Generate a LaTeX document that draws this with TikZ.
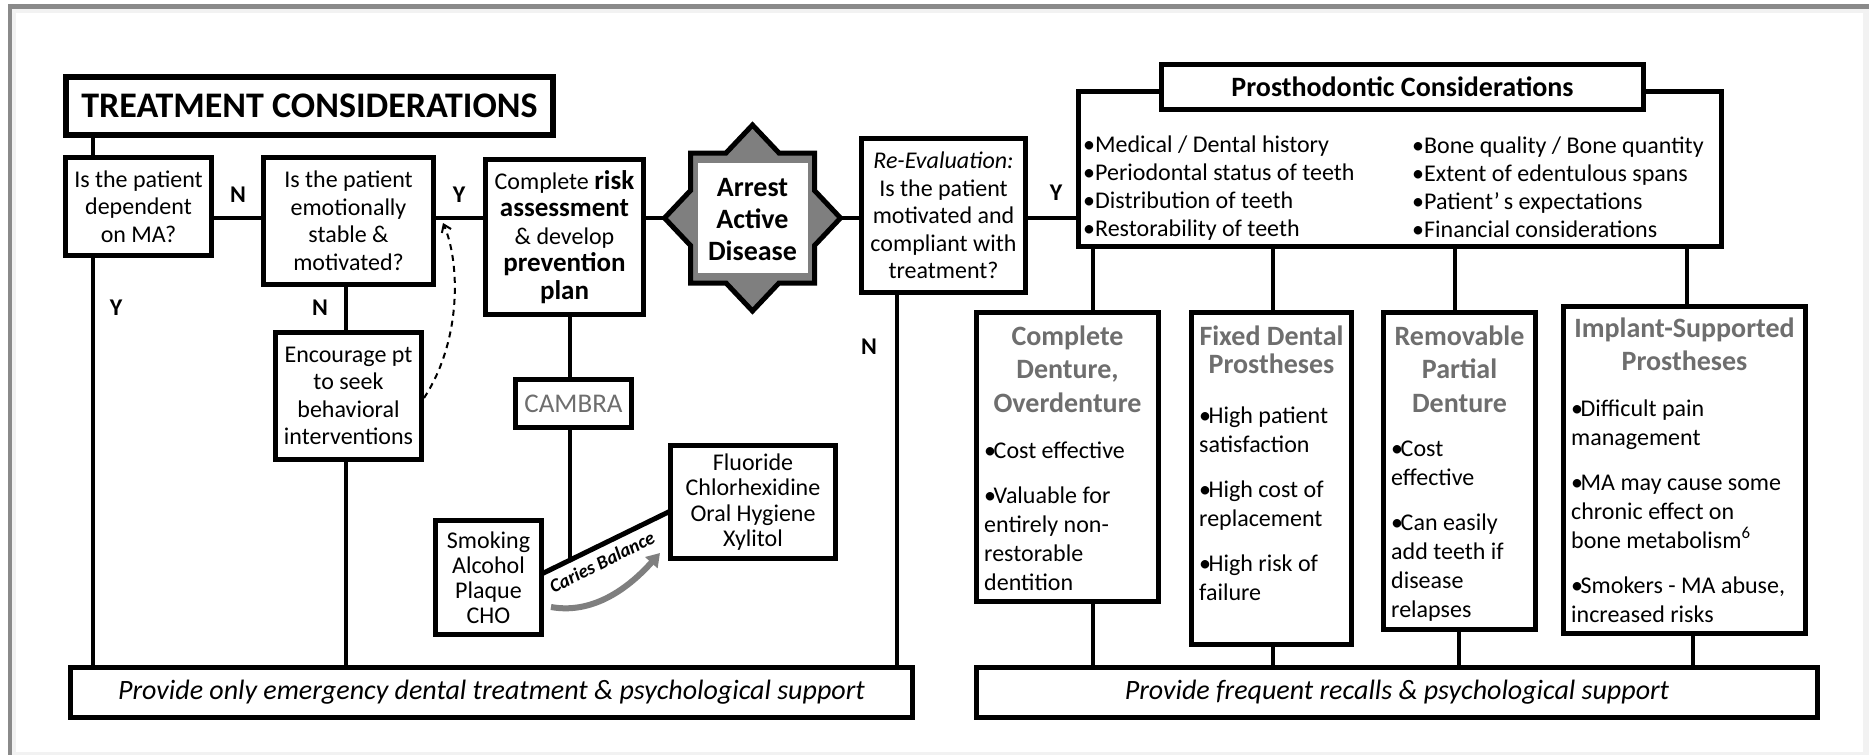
\documentclass[tikz,border=0pt]{standalone}
\usepackage{fontspec}
\setmainfont{Carlito}
\usetikzlibrary{arrows.meta,calc}
\setlength{\parindent}{0pt}
\newcommand\myfs[2]{\fontsize{#1}{#2}\selectfont}
\newcommand\mybul{\hangindent=9.5pt\hangafter=1\noindent\makebox[9.5pt][l]{•}}
\definecolor{frameg}{HTML}{8A8A8A}
\definecolor{framel}{HTML}{F2F2F2}
\definecolor{starg}{HTML}{7F7F7F}
\definecolor{headg}{HTML}{6E6E6E}
\begin{document}
\begin{tikzpicture}[x=1pt,y=-1pt,
  box/.style={draw=black, line width=5pt, fill=white, inner sep=0pt, align=center, font=\myfs{24}{27.5}},
  conn/.style={draw=black, line width=3.5pt},
  yn/.style={inner sep=0pt, font=\bfseries\myfs{24}{24}},
  txt/.style={inner sep=0pt, anchor=base west},
  ttl/.style={inner sep=0pt, anchor=base, text=headg, font=\bfseries\myfs{28}{33.5}},
  bl/.style={inner sep=0pt, anchor=base west, font=\myfs{24}{29}},
]
\useasboundingbox (0,0) rectangle (1869,755);
\fill[white] (0,0) rectangle (1869,755);
\fill[framel] (12,9) rectangle (1869,13);
\fill[framel] (12,9) rectangle (16,755);
\fill[framel] (1863,9) rectangle (1869,755);
\fill[framel] (12,752) rectangle (1869,755);
\fill[frameg] (8,4) rectangle (1869,9);
\fill[frameg] (8,4) rectangle (12,755);

\coordinate (mid) at (0,218);

% ---------- left part ----------
\node[box, line width=6pt, minimum width=487, minimum height=58, font=\bfseries\myfs{36}{36}] (tc) at (309.5,106) {TREATMENT CONSIDERATIONS};
\node[box, minimum width=146, minimum height=98] (q1) at (138.5,206.5) {Is the patient\\dependent\\on MA?};
\node[box, minimum width=170, minimum height=127] (q2) at (348.5,221) {Is the patient\\emotionally\\stable \&\\motivated?};
\node[box, minimum width=158, minimum height=155] (risk) at (564.5,237) {Complete {\bfseries\myfs{27}{27.5}risk}\\{\bfseries\myfs{27}{27.5}assessment}\\\& develop\\{\bfseries\myfs{27}{27.5}prevention}\\{\bfseries\myfs{27}{27.5}plan}};
\node[box, minimum width=146, minimum height=127] (enc) at (348.5,396) {Encourage pt\\to seek\\behavioral\\interventions};
\node[box, minimum width=116, minimum height=48, text=headg, font=\myfs{27}{27}] (cam) at (573.5,403.5) {CAMBRA};
\node[box, minimum width=106, minimum height=114, font=\myfs{24}{25}] (smk) at (488.5,577.5) {Smoking\\Alcohol\\Plaque\\CHO};
\node[box, minimum width=165, minimum height=113, font=\myfs{24}{25.5}] (flu) at (753,502) {Fluoride\\Chlorhexidine\\Oral Hygiene\\Xylitol};
\node[box, minimum width=842, minimum height=50, font=\itshape\myfs{28}{28}] (bl) at (491.5,692.5) {Provide only emergency dental treatment \& psychological support};

% star
\begin{scope}[shift={(752.5,218)}]
\draw[fill=starg, line width=5pt, line join=miter] (0,-93) -- (26.5,-65) -- (62,-65) -- (62,-27.5) -- (88,0) -- (62,27.5) -- (62,65) -- (26.5,65) -- (0,93) -- (-26.5,65) -- (-62,65) -- (-62,27.5) -- (-88,0) -- (-62,-27.5) -- (-62,-65) -- (-26.5,-65) -- cycle;
\fill[white] (-55,-55) rectangle (55,55);
\end{scope}
\coordinate (starW) at (664.5,218);
\coordinate (starE) at (840.5,218);
\node[inner sep=0pt, align=center, font=\bfseries\myfs{28}{32}] (arrest) at (752.5,220) {Arrest\\Active\\Disease};

\node[box, minimum width=164, minimum height=154] (reev) at (943.5,215.5) {\textit{Re-Evaluation:}\\Is the patient\\motivated and\\compliant with\\treatment?};

% ---------- right part ----------
\node[box, minimum width=643, minimum height=155] (pc) at (1400,169) {};
\node[box, minimum width=482, minimum height=45, font=\bfseries\myfs{28}{28}] (pt) at (1402.5,87) {Prosthodontic Considerations};
\node[txt] (pcL) at (1083,152) {\parbox[t]{320pt}{\myfs{24}{28}\raggedright •Medical / Dental history\\•Periodontal status of teeth\\•Distribution of teeth\\•Restorability of teeth}};
\node[txt] (pcR) at (1412,153) {\parbox[t]{310pt}{\myfs{24}{28}\raggedright •Bone quality / Bone quantity\\•Extent of edentulous spans\\•Patient’\,s expectations\\•Financial considerations}};

\node[box, minimum width=182, minimum height=289] (cd) at (1067.5,457) {};
\node[box, minimum width=160, minimum height=332] (fd) at (1271.5,478.5) {};
\node[box, minimum width=152, minimum height=317] (rp) at (1459.5,471) {};
\node[box, minimum width=242, minimum height=327] (is) at (1684.5,470) {};
\node[box, minimum width=841, minimum height=50, font=\itshape\myfs{28}{28}] (br) at (1397,692.5) {Provide frequent recalls \& psychological support};

\node[ttl] (cdT) at (1067.5,345) {\parbox[t]{180pt}{\centering Complete\\Denture,\\Overdenture}};
\node[ttl, font=\bfseries\myfs{28}{28}] (fdT) at (1271.5,345) {\parbox[t]{160pt}{\centering Fixed Dental\\Prostheses}};
\node[ttl] (rpT) at (1459.5,345) {\parbox[t]{150pt}{\centering Removable\\Partial\\Denture}};
\node[ttl] (isT) at (1684.5,337) {\parbox[t]{240pt}{\centering Implant-Supported\\Prostheses}};

\node[bl] (cdB) at (984,458) {\parbox[t]{170pt}{\raggedright\mybul Cost effective\par\vspace{16pt}\mybul Valuable for\\entirely non-\\restorable\\dentition}};
\node[bl] (fdB) at (1199,423) {\parbox[t]{150pt}{\raggedright\mybul High patient\\satisfaction\par\vspace{16pt}\mybul High cost of\\replacement\par\vspace{16pt}\mybul High risk of\\failure}};
\node[bl] (rpB) at (1391,456) {\parbox[t]{145pt}{\raggedright\mybul Cost\\effective\par\vspace{16pt}\mybul Can easily\\add teeth if\\disease\\relapses}};
\node[bl] (isB) at (1571,416) {\parbox[t]{235pt}{\raggedright\mybul Difficult pain\\management\par\vspace{16pt}\mybul MA may cause some\\chronic effect on\\bone metabolism\textsuperscript{6}\par\vspace{16pt}\mybul Smokers - MA abuse,\\increased risks}};

% ---------- connectors ----------
\draw[conn] (tc.south -| 93,0) -- (q1.north -| 93,0);
\draw[conn] (q1.east |- mid) -- (q2.west |- mid);
\draw[conn] (q2.east |- mid) -- (risk.west |- mid);
\draw[conn] (risk.east |- mid) -- (starW);
\draw[conn] (starE) -- (reev.west |- mid);
\draw[conn] (reev.east |- mid) -- (pc.west |- mid);
\draw[conn] (q1.south -| 93,0) -- (bl.north -| 93,0);
\draw[conn] (q2.south -| 346,0) -- (enc.north -| 346,0);
\draw[conn] (enc.south -| 346,0) -- (bl.north -| 346,0);
\draw[conn] (risk.south -| 570,0) -- (cam.north -| 570,0);
\draw[conn] (reev.south -| 897,0) -- (bl.north -| 897,0);

\node[yn] (yn1) at (238,195) {N};
\node[yn] (yn2) at (459,195) {Y};
\node[yn] (yn3) at (116,308) {Y};
\node[yn] (yn4) at (320,308) {N};
\node[yn] (yn5) at (869,347) {N};
\node[yn] (yn6) at (1056,193) {Y};

\foreach \xa/\xb/\n in {1093/1093/cd, 1273/1273/fd, 1455/1459/rp, 1687/1693/is} {
  \draw[conn] (pc.south -| \xa,0) -- (\n.north -| \xa,0);
  \draw[conn] (\n.south -| \xb,0) -- (br.north -| \xb,0);
}

% balance
\coordinate (beamL) at (541.5,574);
\coordinate (beamR) at (670.5,511);
\coordinate (beamC) at (570,560.5);
\draw[line width=5pt] (beamL) -- (beamR);
\draw[conn] (cam.south -| beamC) -- (beamC);
\node[rotate=26.6, inner sep=0pt, font=\bfseries\itshape\myfs{19}{19}] (cb) at (602,562) {Caries Balance};
\coordinate (sw1) at (551,607);
\coordinate (sw2) at (660,553);
\draw[line width=6pt, starg, -{Triangle[length=13pt,width=16pt]}] (sw1) .. controls (590,614) and (625,592) .. (sw2);

% dashed feedback arrow
\draw[line width=2pt, dash pattern=on 6pt off 5pt, -{Straight Barb[length=7pt,width=10pt]}] ($(enc.east)+(0,2)$) .. controls (462,340) and (460,262) .. ($(q2.east)+(7,2)$);
\end{tikzpicture}
\end{document}
